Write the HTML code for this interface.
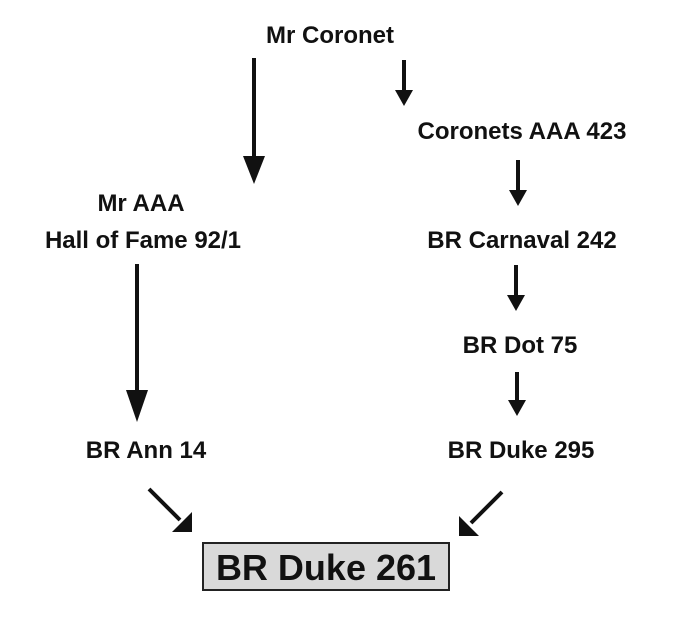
<!DOCTYPE html>
<html><head><style>
body{margin:0;background:#fff;}
svg text{font-family:"Liberation Sans",sans-serif;font-weight:bold;fill:#111;text-anchor:middle;}
</style></head><body>
<svg width="677" height="612" viewBox="0 0 677 612" xmlns="http://www.w3.org/2000/svg">
<g font-size="24">
<text x="330" y="43">Mr Coronet</text>
<text x="522" y="139">Coronets AAA 423</text>
<text x="141" y="211">Mr AAA</text>
<text x="143" y="248">Hall of Fame 92/1</text>
<text x="522" y="248">BR Carnaval 242</text>
<text x="520" y="353">BR Dot 75</text>
<text x="146" y="458">BR Ann 14</text>
<text x="521" y="458">BR Duke 295</text>
</g>
<g stroke="#111" stroke-width="4" fill="#111">
<line x1="254" y1="58" x2="254" y2="160"/><polygon points="243,156 265,156 254,184" stroke="none"/>
<line x1="137" y1="264" x2="137" y2="395"/><polygon points="126,390 148,390 137,422" stroke="none"/>
<line x1="404" y1="60" x2="404" y2="92"/><polygon points="395,90 413,90 404,106" stroke="none"/>
<line x1="518" y1="160" x2="518" y2="192"/><polygon points="509,190 527,190 518,206" stroke="none"/>
<line x1="516" y1="265" x2="516" y2="297"/><polygon points="507,295 525,295 516,311" stroke="none"/>
<line x1="517" y1="372" x2="517" y2="402"/><polygon points="508,400 526,400 517,416" stroke="none"/>
<line x1="149" y1="489" x2="180" y2="520"/><polygon points="192,532 172,532 192,512" stroke="none"/>
<line x1="502" y1="492" x2="471" y2="523"/><polygon points="459,536 479,536 459,516" stroke="none"/>
</g>
<rect x="203" y="543" width="246" height="47" fill="#d9d9d9" stroke="#222" stroke-width="2"/>
<text x="326" y="580" font-size="36">BR Duke 261</text>
</svg>
</body></html>
